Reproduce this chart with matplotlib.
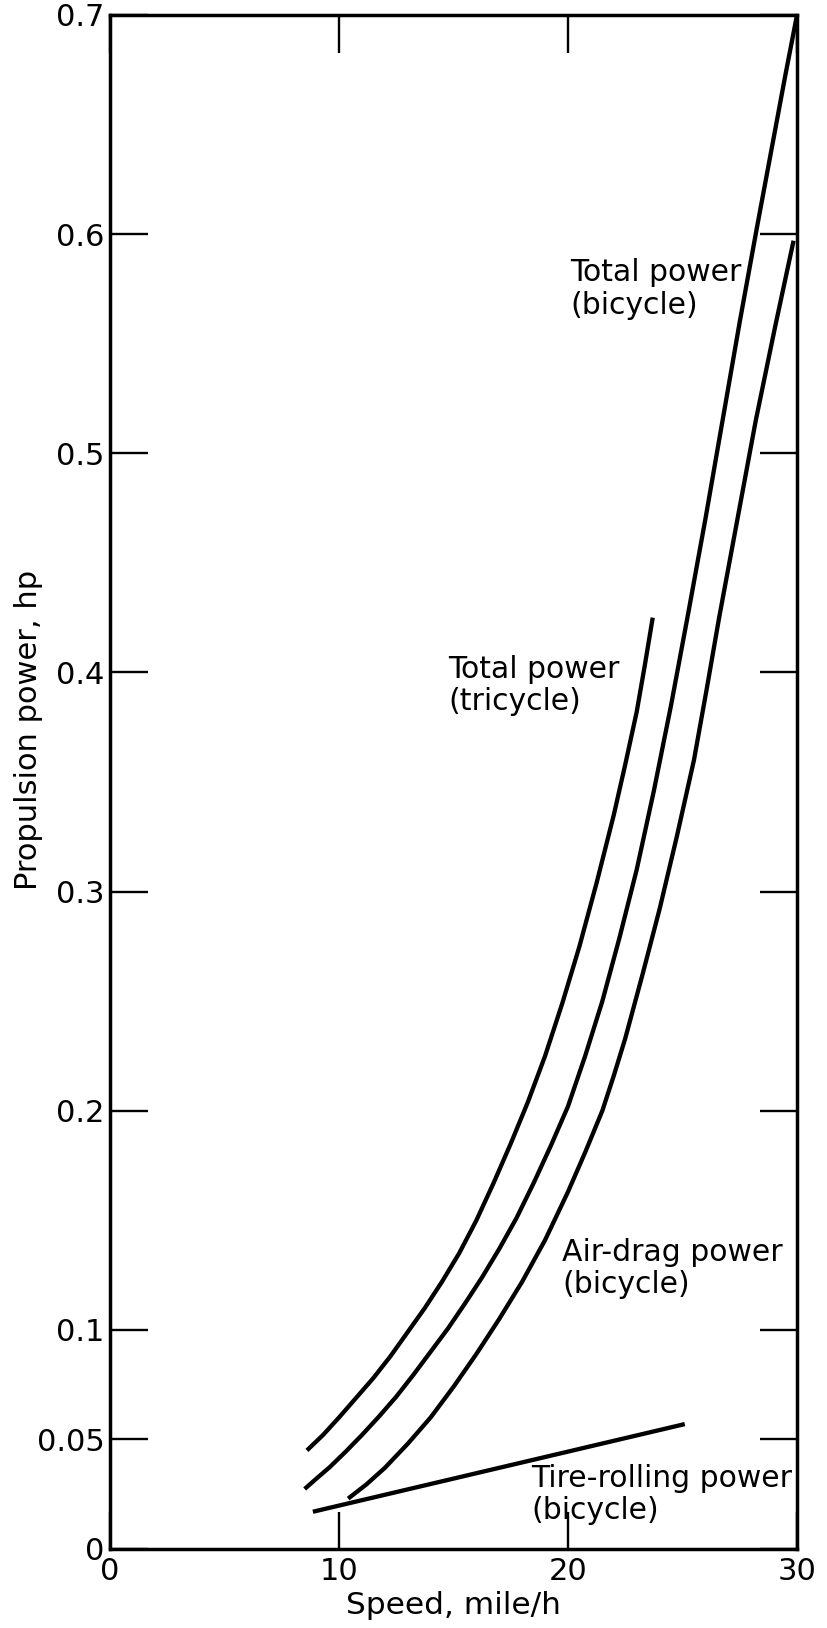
#!/usr/bin/env python3

import matplotlib
matplotlib.use("Agg")
import matplotlib.pyplot as plt

# speed (mile/h) vs propulsion power (hp)
tricycle_x = [8.6, 9.3, 10.0, 10.75, 11.5, 12.25, 13.0, 13.75, 14.5, 15.25, 16.0, 16.75,
              17.5, 18.25, 19.0, 19.75, 20.5, 21.25, 22.0, 22.5, 23.0, 23.35, 23.7]
tricycle_y = [0.045, 0.052, 0.060, 0.069, 0.078, 0.088, 0.099, 0.110, 0.122, 0.135, 0.150, 0.167,
              0.185, 0.204, 0.225, 0.249, 0.275, 0.304, 0.335, 0.358, 0.382, 0.403, 0.425]

bicycle_x = [8.5, 9.0, 9.6, 10.3, 11.0, 11.75, 12.5, 13.25, 14.0, 14.75, 15.5, 16.25, 17.0,
             17.75, 18.5, 19.25, 20.0, 20.75, 21.5, 22.25, 23.0, 23.75, 24.5, 25.25, 26.0,
             26.75, 27.5, 28.25, 29.0, 29.5, 30.0]
bicycle_y = [0.0274, 0.032, 0.0374, 0.0445, 0.052, 0.0605, 0.0695, 0.0795, 0.090, 0.1005, 0.112,
             0.124, 0.137, 0.151, 0.167, 0.184, 0.202, 0.225, 0.250, 0.279, 0.310, 0.346, 0.385,
             0.427, 0.470, 0.515, 0.560, 0.603, 0.645, 0.673, 0.700]

airdrag_x = [10.4, 11.2, 12.0, 13.0, 14.0, 15.0, 16.0, 17.0, 18.0, 19.0, 20.0, 20.75, 21.5,
             22.0, 22.5, 23.25, 24.0, 24.75, 25.5, 26.05, 26.6, 27.4, 28.2, 29.05, 29.85]
airdrag_y = [0.023, 0.0295, 0.037, 0.048, 0.060, 0.074, 0.089, 0.105, 0.122, 0.141, 0.163, 0.181,
             0.200, 0.216, 0.233, 0.262, 0.292, 0.325, 0.360, 0.392, 0.425, 0.470, 0.515, 0.558,
             0.597]

tire_x = [8.86, 25.1]
tire_y = [0.017, 0.057]

x_ticks = [0, 10, 20, 30]
y_ticks = [0, 0.05, 0.1, 0.2, 0.3, 0.4, 0.5, 0.6, 0.7]
y_ticklabels = ["0", "0.05", "0.1", "0.2", "0.3", "0.4", "0.5", "0.6", "0.7"]

plt.rcParams['font.family'] = ['DejaVu Sans']

fig = plt.figure(figsize=(8.27, 16.28), dpi=100)
ax = fig.add_axes([110 / 827, 1 - 1549 / 1628, 687 / 827, 1534 / 1628])

lw = 3.1
for xs, ys in [(tricycle_x, tricycle_y), (bicycle_x, bicycle_y),
               (airdrag_x, airdrag_y), (tire_x, tire_y)]:
    ax.plot(xs, ys, color='black', lw=lw, solid_capstyle='butt',
            solid_joinstyle='round', clip_on=False)

ax.set_xlim(0, 30)
ax.set_ylim(0, 0.7)
ax.set_xticks(x_ticks)
ax.set_yticks(y_ticks)
ax.set_yticklabels(y_ticklabels)

ax.tick_params(axis='both', direction='in', length=27, width=1.7, colors='black',
               top=True, right=True, labelsize=22)
ax.tick_params(axis='y', pad=4)
ax.tick_params(axis='x', pad=6)
for s in ax.spines.values():
    s.set_linewidth(2.5)

ax.set_xlabel("Speed, mile/h", fontsize=22.5, labelpad=3)
ax.set_ylabel("Propulsion power, hp", fontsize=22)
ax.yaxis.set_label_coords(-0.098, 0.534)

# curve labels
fs = 21.5
ax.text(20.1, 0.589, "Total power\n(bicycle)", fontsize=fs, ha='left', va='top', linespacing=1.15)
ax.text(14.76, 0.408, "Total power\n(tricycle)", fontsize=fs, ha='left', va='top', linespacing=1.15)
ax.text(19.75, 0.142, "Air-drag power\n(bicycle)", fontsize=fs, ha='left', va='top', linespacing=1.15)
ax.text(18.4, 0.039, "Tire-rolling power\n(bicycle)", fontsize=fs, ha='left', va='top', linespacing=1.15)

fig.savefig("out.png", dpi=100)
